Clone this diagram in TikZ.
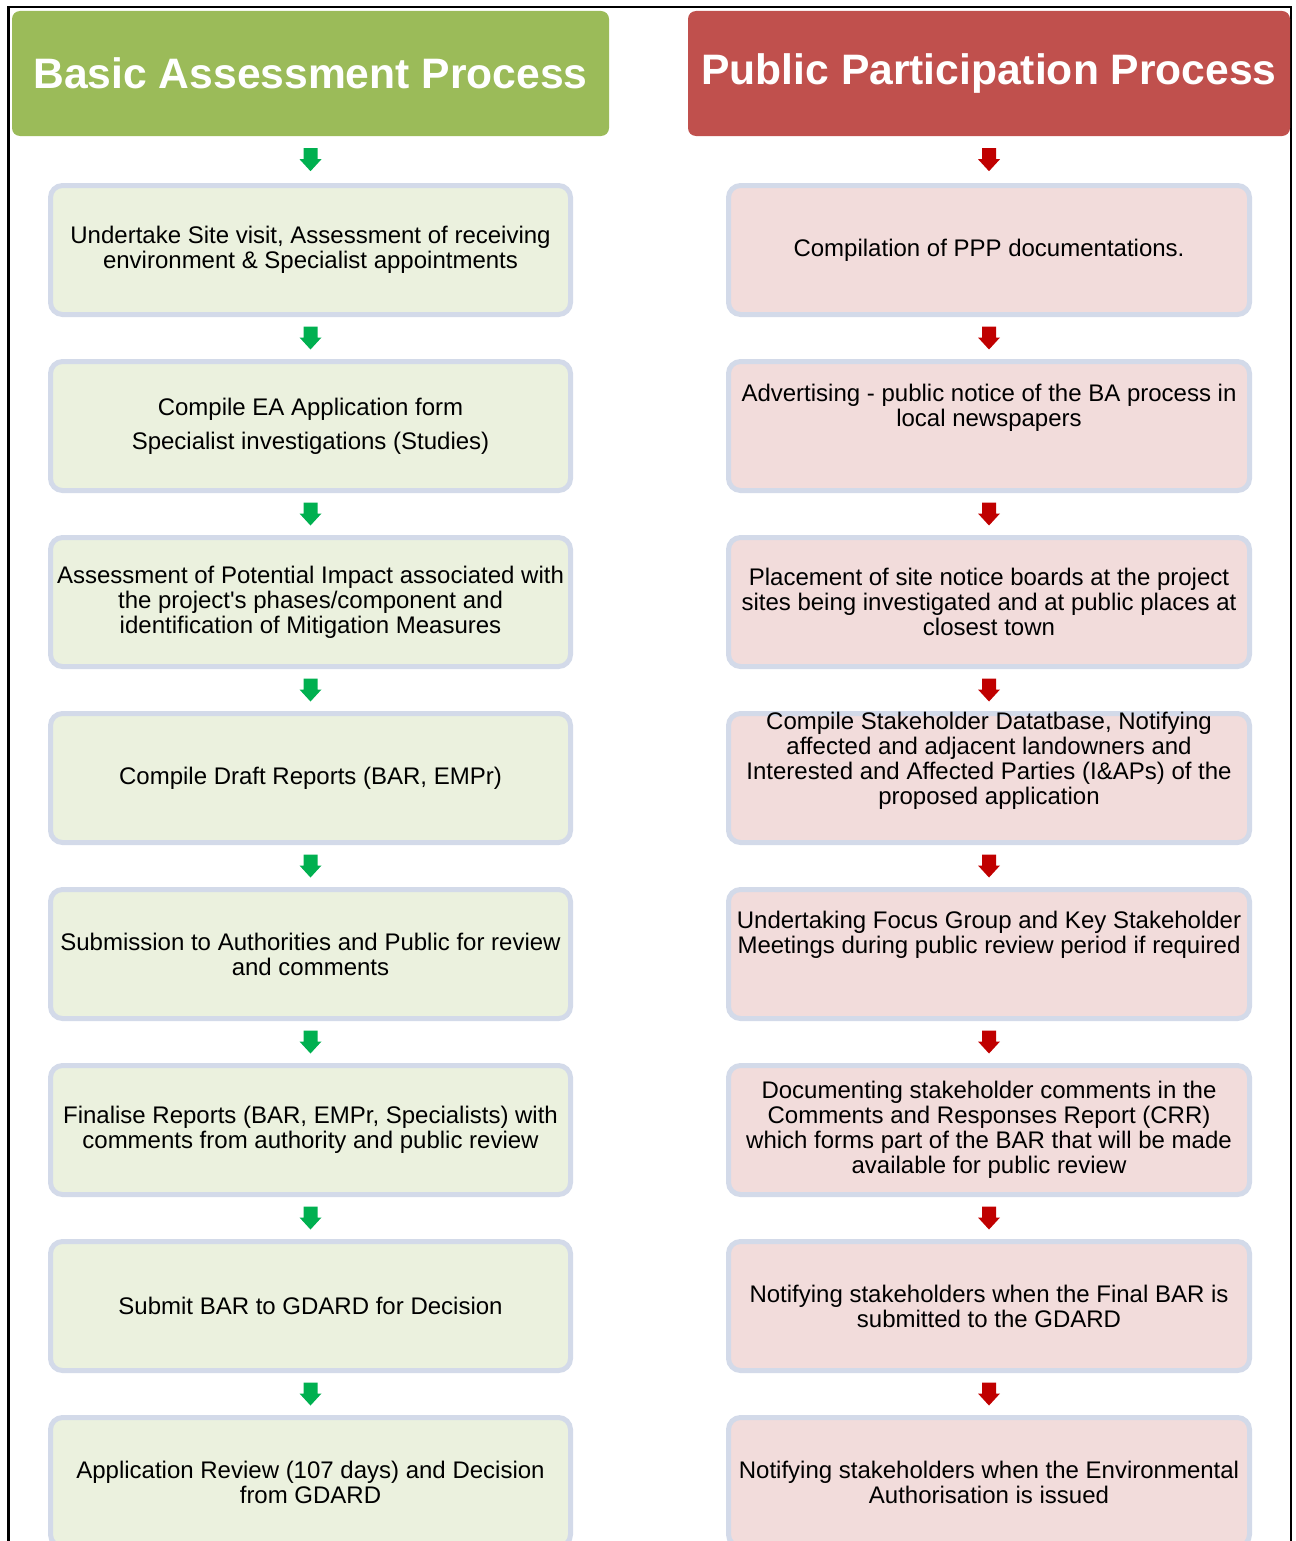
\documentclass[tikz,border=0pt]{standalone}
\usepackage{fontspec}
\setmainfont{Liberation Sans}
\newfontfamily\plainquote{Liberation Sans}
\usetikzlibrary{calc}
\definecolor{hgreen}{HTML}{9BBB59}
\definecolor{hred}{HTML}{C0504D}
\definecolor{bfillg}{HTML}{EBF1DE}
\definecolor{bfillr}{HTML}{F2DCDB}
\definecolor{bborder}{HTML}{D3DAE9}
\definecolor{agreen}{HTML}{00B050}
\definecolor{ared}{HTML}{C00000}
\newcommand\blockarrow[3]{%
  \fill[#3] ($(#1.south)!0.5!(#2.north)$) ++(-7,-11.5) -- ++(14,0) -- ++(0,11)
    -- ++(4,0) -- ++(-11,12) -- ++(-11,-12) -- ++(4,0) -- cycle;}
\tikzset{
  header/.style={fill=#1, rounded corners=4pt, text=white,
    font=\fontsize{21.3}{25}\selectfont\bfseries, minimum height=62.5pt, inner sep=0pt},
  stepbox/.style={draw=bborder, line width=2.5pt, fill=#1, rounded corners=6pt,
    minimum height=64.5pt, align=center, font=\fontsize{12}{12.5}\selectfont,
    inner xsep=0pt, inner ysep=2pt},
  lbox/.style={stepbox=bfillg, minimum width=260pt},
  rbox/.style={stepbox=bfillr, minimum width=260.5pt},
  boxtext/.style={align=center, font=\fontsize{12}{12.5}\selectfont, inner sep=0pt},
}
\begin{document}
\begin{tikzpicture}[x=0.5pt,y=-0.5pt]
\useasboundingbox (0,0) rectangle (1295,1541);
\draw[line width=1.3pt] (8.5,1541) -- (8.5,7) -- (1291,7) -- (1291,1541);
% headers
\node[header=hgreen, minimum width=298.5pt] (hl) at (310.5,73.5) {Basic Assessment Process};
\node[header=hred, minimum width=301pt] (hr) at (989,73.5) {Public Participation Process};
% left column
\node[lbox] (l1) at (310.5,250) {Undertake Site visit, Assessment of receiving\\environment \& Specialist appointments};
\node[lbox] (l2) at (310.5,426) {Compile EA Application form\\[4.5pt]Specialist investigations (Studies)};
\node[lbox] (l3) at (310.5,602) {Assessment of Potential Impact associated with\\the project{\plainquote'}s phases/component and\\identification of Mitigation Measures};
\node[lbox] (l4) at (310.5,778) {Compile Draft Reports (BAR, EMPr)};
\node[lbox] (l5) at (310.5,954) {Submission to Authorities and Public for review\\and comments};
\node[lbox] (l6) at (310.5,1130) {Finalise Reports (BAR, EMPr, Specialists) with\\comments from authority and public review};
\node[lbox] (l7) at (310.5,1306) {Submit BAR to GDARD for Decision};
\node[lbox] (l8) at (310.5,1482) {Application Review (107 days) and Decision\\from GDARD};
% right column
\node[rbox] (r1) at (989,250) {Compilation of PPP documentations.};
\node[rbox] (r2) at (989,426) {};
\node[boxtext] (r2t) at (989,408) {Advertising - public notice of the BA process in\\local newspapers};
\node[rbox] (r3) at (989,602) {Placement of site notice boards at the project\\sites being investigated and at public places at\\closest town};
\node[rbox] (r4) at (989,778) {};
\node[boxtext] (r4t) at (989,761) {Compile Stakeholder Datatbase, Notifying\\affected and adjacent landowners and\\Interested and Affected Parties (I\&APs) of the\\proposed application};
\node[rbox] (r5) at (989,954) {};
\node[boxtext] (r5t) at (989,935) {Undertaking Focus Group and Key Stakeholder\\Meetings during public review period if required};
\node[rbox] (r6) at (989,1130) {Documenting stakeholder comments in the\\Comments and Responses Report (CRR)\\which forms part of the BAR that will be made\\available for public review};
\node[rbox] (r7) at (989,1306) {Notifying stakeholders when the Final BAR is\\submitted to the GDARD};
\node[rbox] (r8) at (989,1482) {Notifying stakeholders when the Environmental\\Authorisation is issued};
% arrows
\blockarrow{hl}{l1}{agreen}
\blockarrow{l1}{l2}{agreen}
\blockarrow{l2}{l3}{agreen}
\blockarrow{l3}{l4}{agreen}
\blockarrow{l4}{l5}{agreen}
\blockarrow{l5}{l6}{agreen}
\blockarrow{l6}{l7}{agreen}
\blockarrow{l7}{l8}{agreen}
\blockarrow{hr}{r1}{ared}
\blockarrow{r1}{r2}{ared}
\blockarrow{r2}{r3}{ared}
\blockarrow{r3}{r4}{ared}
\blockarrow{r4}{r5}{ared}
\blockarrow{r5}{r6}{ared}
\blockarrow{r6}{r7}{ared}
\blockarrow{r7}{r8}{ared}
\end{tikzpicture}
\end{document}
